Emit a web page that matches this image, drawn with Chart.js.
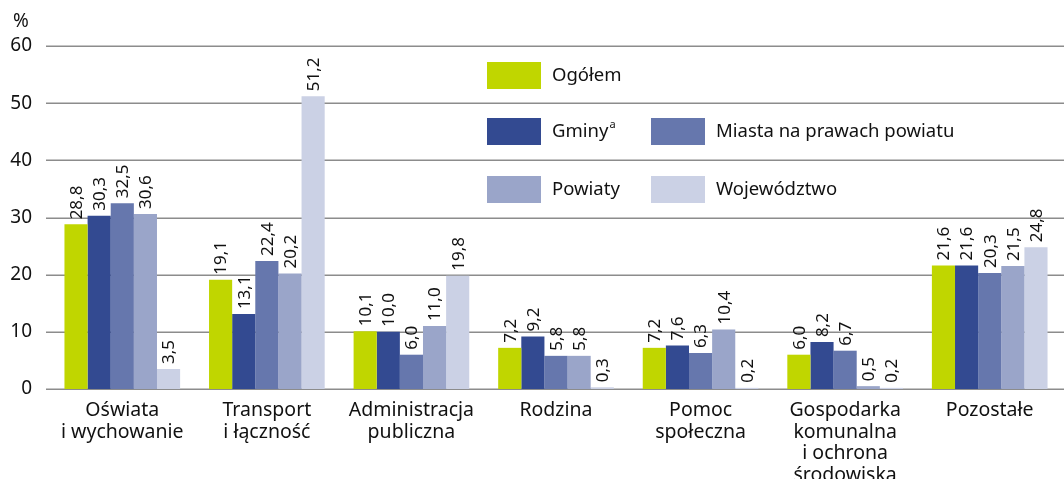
<!DOCTYPE html>
<html>
<head>
<meta charset="utf-8">
<script src="https://cdn.jsdelivr.net/npm/chart.js@4.4.1/dist/chart.umd.min.js"></script>
<style>
  html, body { margin: 0; padding: 0; background: #fff; }
  #wrap { width: 1064px; height: 479px; }
</style>
</head>
<body>
<div id="wrap"><canvas id="expenses-chart"></canvas></div>
<script>
// Struktura wydatków według działów
const categories = [
    ['Oświata', 'i wychowanie'],
    ['Transport', 'i łączność'],
    ['Administracja', 'publiczna'],
    'Rodzina',
    ['Pomoc', 'społeczna'],
    ['Gospodarka', 'komunalna', 'i ochrona', 'środowiska'],
    'Pozostałe'
];
const ogolem = [28.8, 19.1, 10.1, 7.2, 7.2, 6.0, 21.6];
const gminy = [30.3, 13.1, 10.0, 9.2, 7.6, 8.2, 21.6];
const miasta = [32.5, 22.4, 6.0, 5.8, 6.3, 6.7, 20.3];
const powiaty = [30.6, 20.2, 11.0, 5.8, 10.4, 0.5, 21.5];
const wojewodztwo = [3.5, 51.2, 19.8, 0.3, 0.2, 0.2, 24.8];
const yTicks = [0, 10, 20, 30, 40, 50, 60];

const FONT = "'Noto Sans', sans-serif";

// horizontal lines, starting a bit left of the plot area like the original
const gridLines = {
    id: 'gridLines',
    beforeDatasetsDraw(chart) {
        const ctx = chart.ctx;
        const y = chart.scales.y;
        ctx.save();
        ctx.strokeStyle = '#8c8c8c';
        ctx.lineWidth = 1.5;
        yTicks.forEach(v => {
            const py = Math.round(y.getPixelForValue(v)) + 0.25;
            ctx.beginPath();
            ctx.moveTo(46, py);
            ctx.lineTo(chart.width, py);
            ctx.stroke();
        });
        ctx.restore();
    }
};

// value labels above bars, rotated
const barLabels = {
    id: 'barLabels',
    afterDatasetsDraw(chart) {
        const ctx = chart.ctx;
        ctx.save();
        ctx.font = '17px ' + FONT;
        ctx.fillStyle = '#111';
        ctx.textAlign = 'left';
        ctx.textBaseline = 'middle';
        chart.data.datasets.forEach((ds, i) => {
            chart.getDatasetMeta(i).data.forEach((bar, j) => {
                const txt = ds.data[j].toFixed(1).replace('.', ',');
                ctx.save();
                ctx.translate(bar.x, bar.y - 5);
                ctx.rotate(-Math.PI / 2);
                ctx.fillText(txt, 0, 1);
                ctx.restore();
            });
        });
        ctx.restore();
    }
};

// legend in three rows, like the original
const rowLegend = {
    id: 'rowLegend',
    afterDraw(chart) {
        const ctx = chart.ctx;
        const ds = chart.data.datasets;
        const spots = [[487, 62], [487, 118], [651, 118], [487, 176], [651, 176]];
        ctx.save();
        ctx.textBaseline = 'middle';
        ds.forEach((d, i) => {
            const [x, y] = spots[i];
            ctx.fillStyle = d.backgroundColor;
            ctx.fillRect(x, y, 54, 27);
            ctx.fillStyle = '#111';
            ctx.font = '18.5px ' + FONT;
            ctx.fillText(d.label, x + 65, y + 13.5);
            if (d.sup) {
                const w = ctx.measureText(d.label).width;
                ctx.font = '11px ' + FONT;
                ctx.fillText(d.sup, x + 66 + w, y + 7);
            }
        });
        ctx.restore();
    }
};

// "%" over the axis
const unitLabel = {
    id: 'unitLabel',
    afterDraw(chart) {
        const ctx = chart.ctx;
        ctx.save();
        ctx.font = '19px ' + FONT;
        ctx.fillStyle = '#111';
        ctx.textAlign = 'center';
        ctx.textBaseline = 'middle';
        ctx.fillText('%', 21, 22);
        ctx.restore();
    }
};

const dataForExpenses = {
    labels: categories,
    datasets: [
        { label: 'Ogółem', data: ogolem, backgroundColor: '#c0d600' },
        { label: 'Gminy', sup: 'a', data: gminy, backgroundColor: '#334a91' },
        { label: 'Miasta na prawach powiatu', data: miasta, backgroundColor: '#6677ad' },
        { label: 'Powiaty', data: powiaty, backgroundColor: '#9aa5c9' },
        { label: 'Województwo', data: wojewodztwo, backgroundColor: '#cbd1e5' }
    ]
};

const configForExpenses = {
    type: 'bar',
    data: dataForExpenses,
    options: {
        responsive: true,
        maintainAspectRatio: false,
        animation: false,
        categoryPercentage: 0.8,
        barPercentage: 1.0,
        layout: { padding: { top: 46, right: 2, left: 0, bottom: 0 } },
        plugins: {
            legend: { display: false },
            tooltip: { enabled: false }
        },
        scales: {
            x: {
                grid: { display: false },
                border: { display: false },
                ticks: {
                    color: '#111',
                    font: { family: FONT, size: 19.5, lineHeight: '21.5px' },
                    padding: 3,
                    maxRotation: 0,
                    autoSkip: false
                },
                afterFit(scale) { scale.height = 90; }
            },
            y: {
                min: 0,
                max: 60,
                afterBuildTicks(scale) { scale.ticks = yTicks.map(v => ({ value: v })); },
                grid: { display: false },
                border: { display: false },
                ticks: {
                    color: '#111',
                    font: { family: FONT, size: 19 },
                    padding: 10
                },
                afterFit(scale) { scale.width = 50; }
            }
        }
    },
    plugins: [gridLines, barLabels, rowLegend, unitLabel]
};

const expensesChart = new Chart(
    document.getElementById('expenses-chart'),
    configForExpenses
);
</script>
</body>
</html>
